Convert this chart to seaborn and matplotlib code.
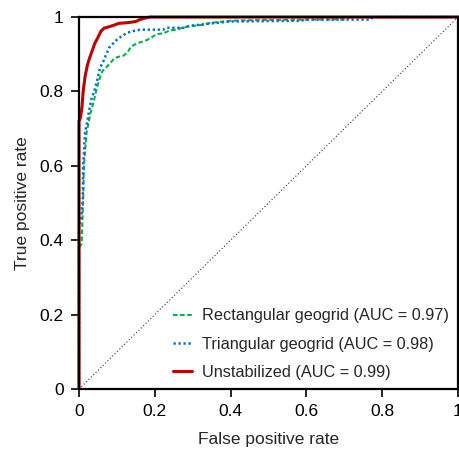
import numpy as np
import pandas as pd
import matplotlib
matplotlib.use("Agg")
import matplotlib.pyplot as plt
import seaborn as sns

# ROC curve points (false positive rate, true positive rate)
rect_fpr = [0, 0, 0.007, 0.011, 0.013, 0.020, 0.030, 0.038, 0.045, 0.053, 0.062, 0.072,
            0.082, 0.093, 0.104, 0.117, 0.128, 0.137, 0.152, 0.165, 0.179, 0.190, 0.205,
            0.222, 0.240, 0.258, 0.275, 0.290, 0.328, 0.346, 0.363, 0.400, 0.486, 0.600,
            0.700, 0.720, 1.0]
rect_tpr = [0, 0.38, 0.39, 0.51, 0.60, 0.69, 0.74, 0.77, 0.80, 0.83, 0.855, 0.865,
            0.875, 0.889, 0.893, 0.896, 0.905, 0.920, 0.929, 0.933, 0.938, 0.944, 0.954,
            0.956, 0.964, 0.966, 0.972, 0.975, 0.979, 0.984, 0.986, 0.990, 0.992, 0.993,
            0.994, 1.0, 1.0]

tri_fpr = [0, 0, 0.006, 0.010, 0.011, 0.016, 0.022, 0.027, 0.033, 0.040, 0.048, 0.056,
           0.064, 0.072, 0.080, 0.093, 0.102, 0.115, 0.128, 0.146, 0.161, 0.222, 0.232,
           0.280, 0.290, 0.340, 0.400, 0.583, 0.600, 0.770, 0.775, 1.0]
tri_tpr = [0, 0.44, 0.46, 0.51, 0.60, 0.69, 0.72, 0.75, 0.78, 0.80, 0.83, 0.865,
           0.88, 0.90, 0.918, 0.932, 0.941, 0.950, 0.958, 0.963, 0.966, 0.966, 0.971,
           0.971, 0.976, 0.982, 0.988, 0.990, 0.993, 0.993, 1.0, 1.0]

unst_fpr = [0, 0, 0.004, 0.008, 0.011, 0.016, 0.022, 0.028, 0.035, 0.042, 0.050, 0.058,
            0.066, 0.080, 0.095, 0.105, 0.130, 0.150, 0.160, 0.170, 0.187, 1.0]
unst_tpr = [0, 0.72, 0.73, 0.76, 0.80, 0.84, 0.87, 0.89, 0.91, 0.93, 0.945, 0.962,
            0.970, 0.974, 0.979, 0.983, 0.985, 0.988, 0.993, 0.996, 1.0, 1.0]

labels = ["Rectangular geogrid (AUC = 0.97)",
          "Triangular geogrid (AUC = 0.98)",
          "Unstabilized (AUC = 0.99)"]
tick_vals = [0, 0.2, 0.4, 0.6, 0.8, 1.0]
tick_text = ["0", "0.2", "0.4", "0.6", "0.8", "1"]

sns.set_style("ticks")
plt.rcParams["font.family"] = ["Liberation Sans", "DejaVu Sans"]

fig = plt.figure(figsize=(4.59, 4.49), dpi=100)
ax = fig.add_axes([0.1721, 0.1336, 0.8257, 0.8285])

# chance diagonal
sns.lineplot(x=[0, 1], y=[0, 1], ax=ax, color="#333333", lw=0.8,
             dashes=False, sort=False, estimator=None)
ax.lines[-1].set_dashes((1, 2))

styles = [
    (rect_fpr, rect_tpr, "#00B050", 1.5, (2.2, 1.2)),
    (tri_fpr, tri_tpr, "#0070C0", 1.8, (0.9, 1.1)),
    (unst_fpr, unst_tpr, "#C00000", 2.2, None),
]
for (fx, ty, col, lw, dsh), lab in zip(styles, labels):
    df = pd.DataFrame({"fpr": fx, "tpr": ty})
    sns.lineplot(data=df, x="fpr", y="tpr", ax=ax, color=col, lw=lw,
                 sort=False, estimator=None, label=lab)
    line = ax.lines[-1]
    if dsh is not None:
        line.set_dashes(dsh)
    line.set_clip_on(False)

ax.set_xlim(0, 1)
ax.set_ylim(0, 1)
ax.set_xticks(tick_vals)
ax.set_xticklabels(tick_text)
ax.set_yticks(tick_vals)
ax.set_yticklabels(tick_text)
ax.tick_params(direction="out", length=6, width=1.2, labelsize=12.5,
               colors="black", pad=5)
for sp in ax.spines.values():
    sp.set_linewidth(1.6)
    sp.set_color("black")

ax.set_xlabel("False positive rate", fontsize=12.5, labelpad=9)
ax.set_ylabel("True positive rate", fontsize=12.5, labelpad=7)

ax.legend(loc="lower right", frameon=False, fontsize=11.7, handlelength=1.2,
          handletextpad=0.6, labelspacing=0.82, borderaxespad=0.15)

fig.savefig("out.png", dpi=100)
